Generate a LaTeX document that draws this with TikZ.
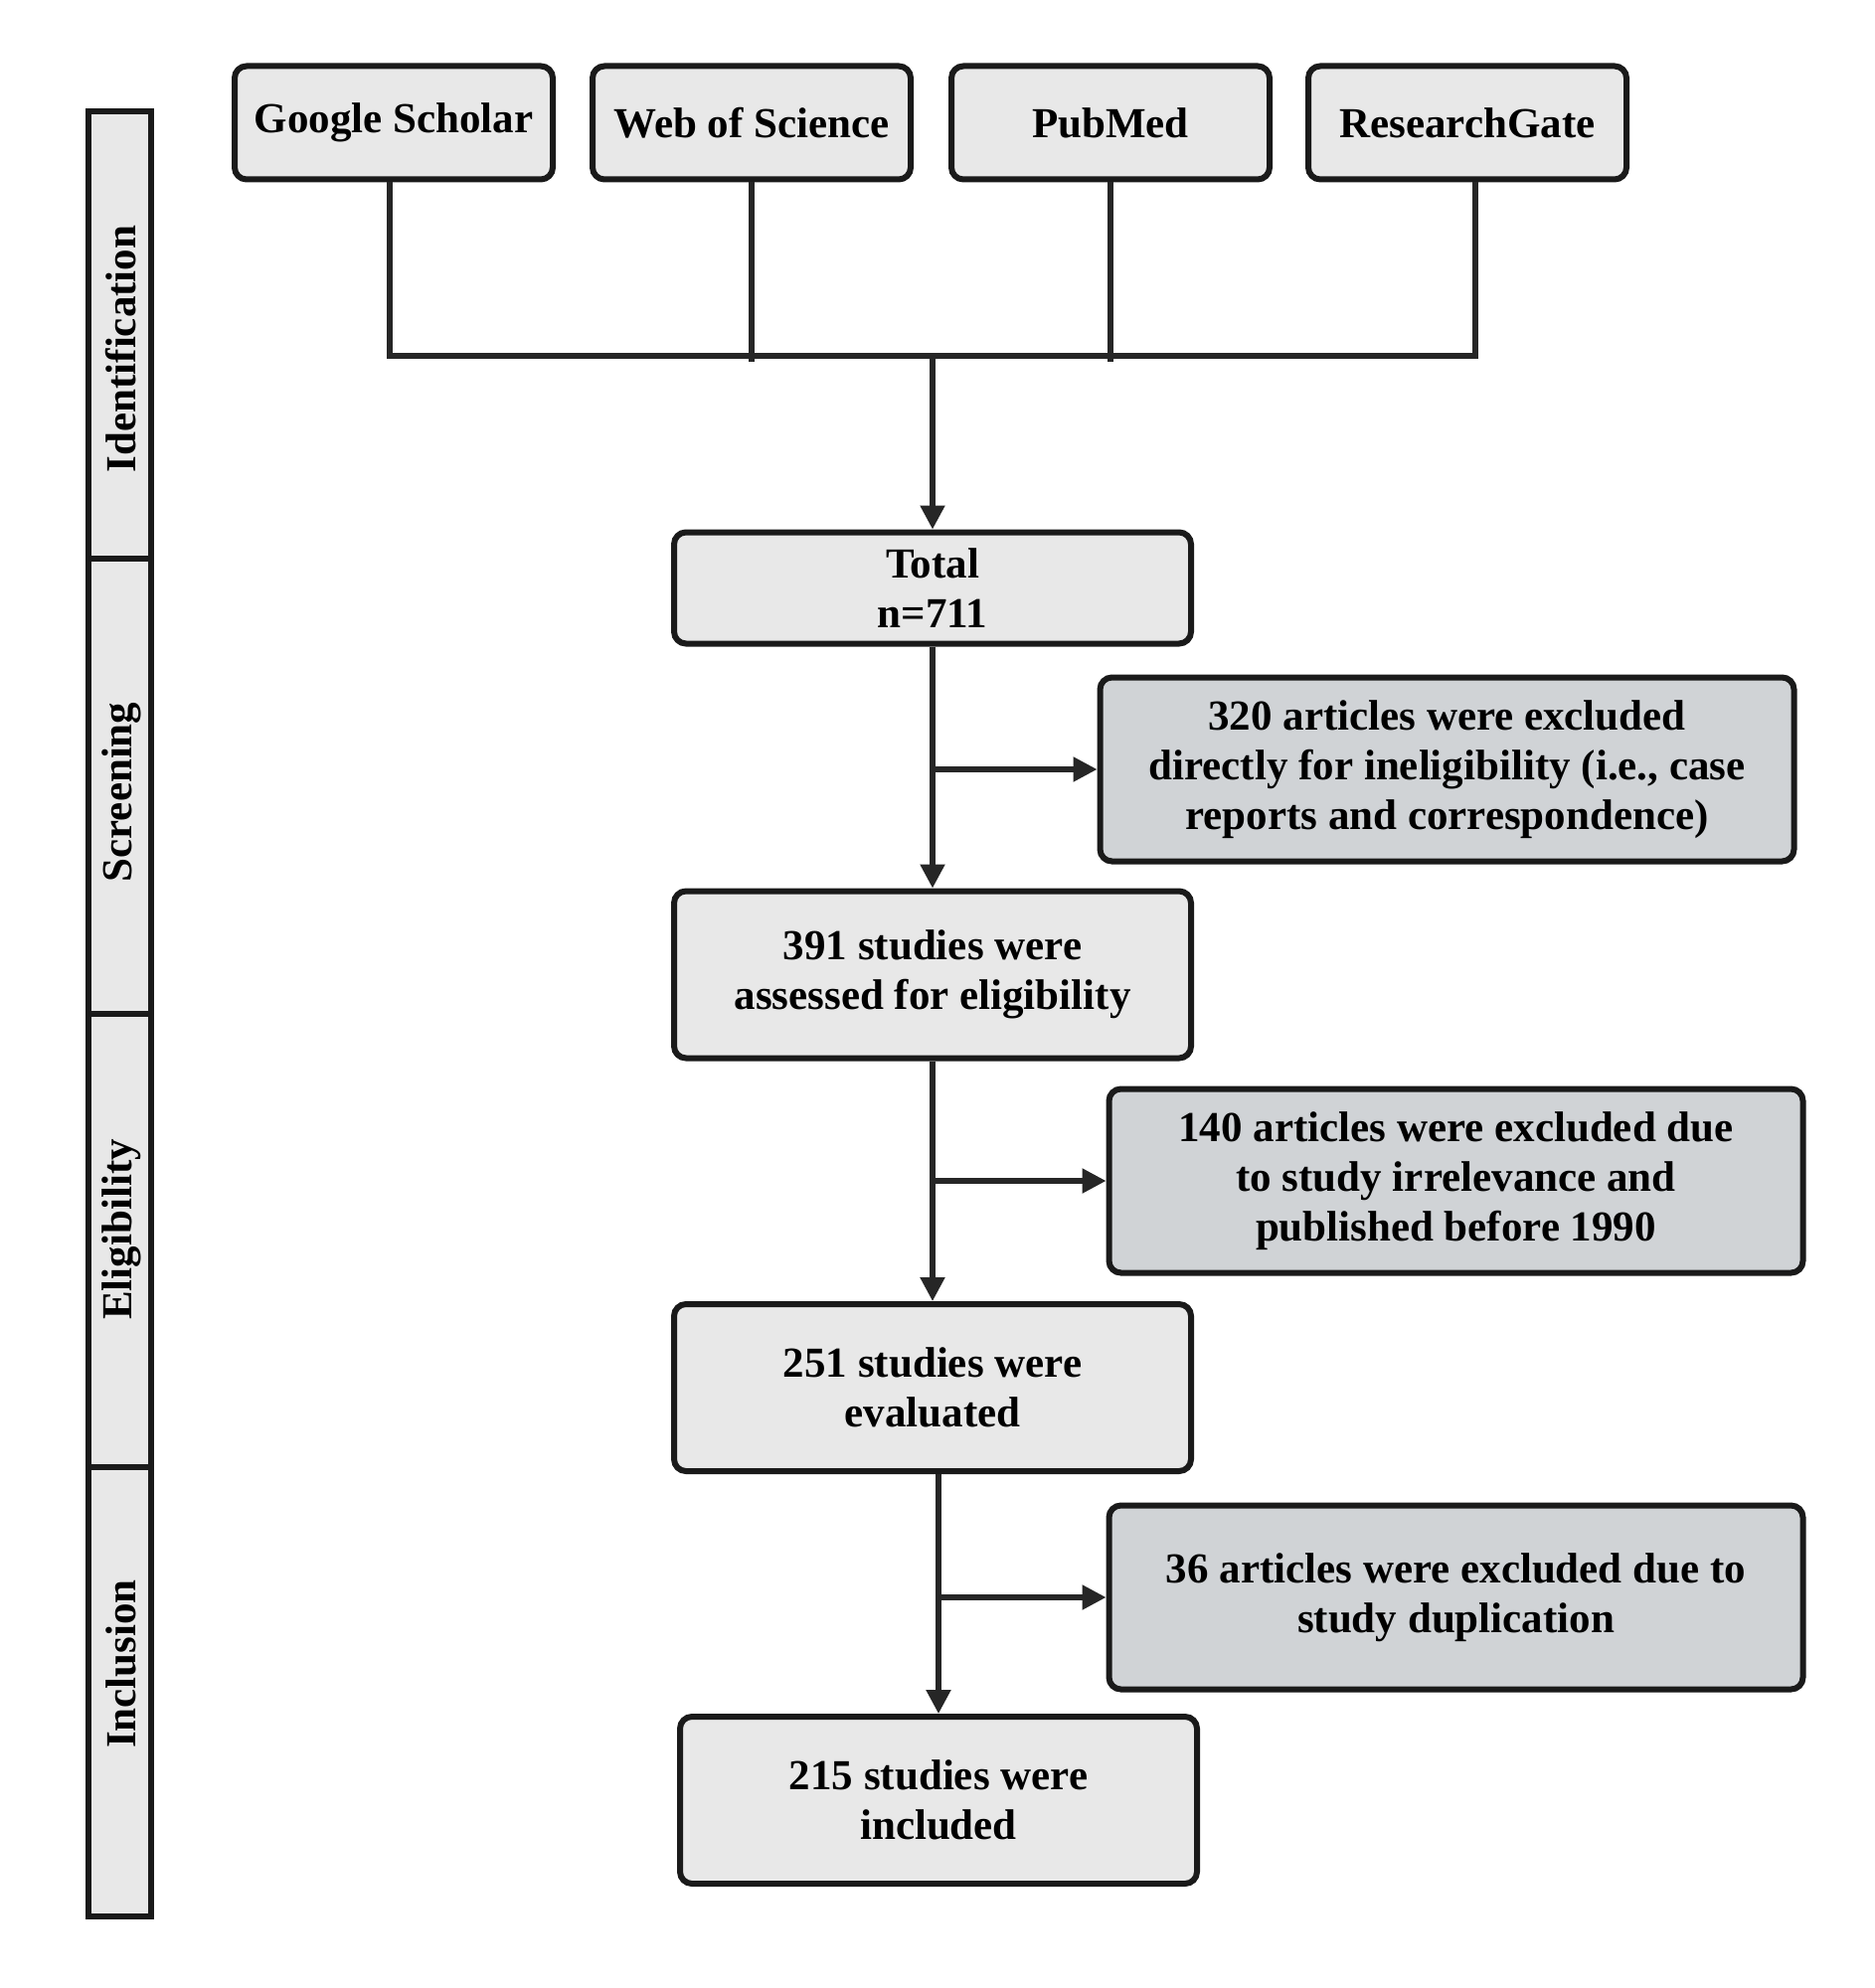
\documentclass[tikz,border=0pt]{standalone}
\usepackage{fontspec}
\setmainfont{Liberation Serif}
\usetikzlibrary{arrows.meta,calc}
\definecolor{boxline}{HTML}{1A1A1A}
\definecolor{conn}{HTML}{262626}
\definecolor{mainfill}{HTML}{E8E8E8}
\definecolor{exfill}{HTML}{D0D3D6}
\begin{document}
\begin{tikzpicture}[x=0.5pt,y=-0.5pt,
  every node/.style={font=\bfseries\fontsize{21.5}{25}\selectfont, text=black, align=center, inner sep=0pt},
  srcbox/.style={draw=boxline, line width=3pt, rounded corners=6pt, fill=mainfill, minimum width=160pt, minimum height=57pt},
  mainbox/.style={draw=boxline, line width=3pt, rounded corners=6pt, fill=mainfill, minimum width=260pt},
  exbox/.style={draw=boxline, line width=3pt, rounded corners=6pt, fill=exfill, minimum width=349pt, minimum height=92.5pt},
  phasebar/.style={draw=boxline, line width=3pt, fill=mainfill},
  conline/.style={draw=conn, line width=2.6pt},
  arr/.style={conline, -{Triangle[length=12pt,width=12pt]}}
]
\useasboundingbox (0,0) rectangle (1885,2000);

% phase bars
\draw[phasebar] (89,112) rectangle (152,562);
\draw[phasebar] (89,562) rectangle (152,1020);
\draw[phasebar] (89,1020) rectangle (152,1476);
\draw[phasebar] (89,1476) rectangle (152,1928);
\node[rotate=90] (pid) at (122,351) {Identification};
\node[rotate=90] (psc) at (122,797) {Screening};
\node[rotate=90] (pel) at (122,1237) {Eligibility};
\node[rotate=90] (pin) at (122,1674) {Inclusion};

% sources
\node[srcbox] (gs) at (396,123.5) {Google Scholar};
\node[srcbox] (wos) at (756,123.5) {Web of Science};
\node[srcbox] (pm) at (1117,123.5) {PubMed};
\node[srcbox] (rg) at (1476,123.5) {ResearchGate};

% main boxes
\node[mainbox, minimum height=56pt] (total) at (938,591.5) {Total\\n=711};
\node[mainbox, minimum height=84pt] (s391) at (938,980.5) {391 studies were\\assessed for eligibility};
\node[mainbox, minimum height=84pt] (s251) at (938,1396) {251 studies were\\evaluated};
\node[mainbox, minimum height=84pt] (s215) at (944,1811) {215 studies were\\included};

% exclusion boxes
\node[exbox] (ex1) at (1455.5,774) {320 articles were excluded\\directly for ineligibility (i.e., case\\reports and correspondence)};
\node[exbox] (ex2) at (1464.5,1188) {140 articles were excluded due\\to study irrelevance and\\published before 1990};
\node[exbox] (ex3) at (1464.5,1607) {36 articles were excluded due to\\study duplication};

% merge connector
\coordinate (mj) at (total.north |- 0,358);
\draw[conline] ([xshift=-2pt]gs.south) -- ([xshift=-2pt]gs.south |- mj) -- ([xshift=4pt]rg.south |- mj) -- ([xshift=4pt]rg.south);
\draw[conline] (wos.south) -- ([yshift=-3pt]wos.south |- mj);
\draw[conline] (pm.south) -- ([yshift=-3pt]pm.south |- mj);
\draw[arr] (mj) -- (total.north);

% flow
\draw[arr] (total.south) -- (s391.north);
\draw[arr] (total.south |- ex1.west) -- (ex1.west);
\draw[arr] (s391.south) -- (s251.north);
\draw[arr] (s391.south |- ex2.west) -- (ex2.west);
\draw[arr] (s215.north |- s251.south) -- (s215.north);
\draw[arr] (s215.north |- ex3.west) -- (ex3.west);
\end{tikzpicture}
\end{document}
